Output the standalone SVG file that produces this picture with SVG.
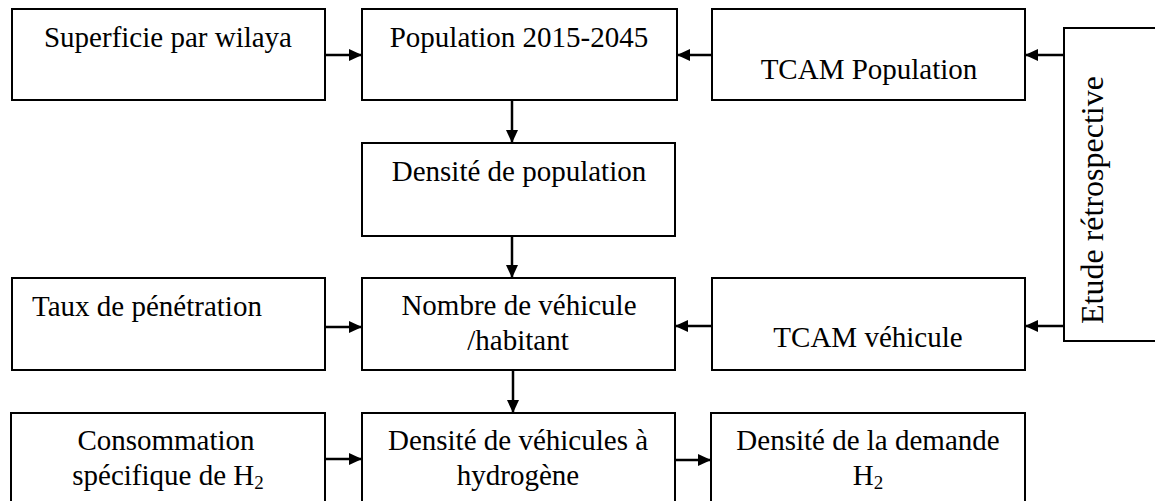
<svg xmlns="http://www.w3.org/2000/svg" width="1155" height="501" viewBox="0 0 1155 501">
<style>
.box{fill:#fff;stroke:#000;stroke-width:2}
.t{font-family:"Liberation Serif","Times New Roman",serif;font-size:29px;fill:#000;text-anchor:middle}
.l{text-anchor:start}
.v{font-size:32px}
.c{stroke:#000;stroke-width:2.5;fill:none;marker-end:url(#ah)}
.sub{font-size:19px}
</style>
<defs>
<marker id="ah" markerUnits="userSpaceOnUse" markerWidth="14" markerHeight="12" refX="13" refY="6" orient="auto">
<path d="M0,0 L13,6 L0,12 Z" fill="#000"/>
</marker>
</defs>
<rect width="1155" height="501" fill="#fff"/>
<g id="superficie"><rect class="box" x="12" y="9" width="313" height="91"/><text class="t" x="168" y="47">Superficie par wilaya</text></g>
<g id="population"><rect class="box" x="362" y="9" width="315" height="91"/><text class="t" x="519" y="47">Population 2015-2045</text></g>
<g id="tcam-pop"><rect class="box" x="712" y="9" width="313" height="91"/><text class="t" x="869" y="79">TCAM Population</text></g>
<g id="etude"><rect class="box" x="1064" y="28" width="110" height="313"/><text class="t v" transform="translate(1103,200) rotate(-90)">Etude rétrospective</text></g>
<g id="densite-pop"><rect class="box" x="362" y="143" width="313" height="93"/><text class="t" x="519" y="181">Densité de population</text></g>
<g id="taux"><rect class="box" x="12" y="278" width="313" height="92"/><text class="t l" x="32" y="316">Taux de pénétration</text></g>
<g id="nombre"><rect class="box" x="362" y="278" width="313" height="92"/><text class="t" x="519" y="315">Nombre de véhicule</text><text class="t" x="518" y="350">/habitant</text></g>
<g id="tcam-veh"><rect class="box" x="712" y="278" width="313" height="92"/><text class="t" x="868" y="347">TCAM véhicule</text></g>
<g id="consommation"><rect class="box" x="11" y="413" width="314" height="100"/><text class="t" x="166" y="450">Consommation</text><text class="t" x="168" y="485">spécifique de H<tspan class="sub" dy="4">2</tspan></text></g>
<g id="densite-veh"><rect class="box" x="362" y="413" width="313" height="100"/><text class="t" x="518" y="450">Densité de véhicules à</text><text class="t" x="518" y="485">hydrogène</text></g>
<g id="demande"><rect class="box" x="711" y="413" width="314" height="100"/><text class="t" x="868" y="450">Densité de la demande</text><text class="t" x="868" y="485">H<tspan class="sub" dy="4">2</tspan></text></g>
<g id="connectors">
<line class="c" x1="325" y1="55" x2="362" y2="55"/>
<line class="c" x1="712" y1="55" x2="677" y2="55"/>
<line class="c" x1="1064" y1="55" x2="1025" y2="55"/>
<line class="c" x1="512" y1="100" x2="512" y2="143"/>
<line class="c" x1="512" y1="236" x2="512" y2="278"/>
<line class="c" x1="325" y1="327" x2="362" y2="327"/>
<line class="c" x1="712" y1="326" x2="675" y2="326"/>
<line class="c" x1="1064" y1="326" x2="1025" y2="326"/>
<line class="c" x1="513" y1="370" x2="513" y2="413"/>
<line class="c" x1="325" y1="459" x2="362" y2="459"/>
<line class="c" x1="675" y1="460" x2="711" y2="460"/>
</g>
</svg>
